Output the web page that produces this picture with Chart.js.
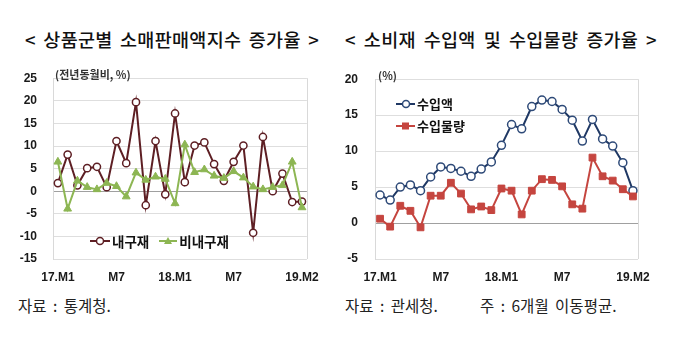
<!DOCTYPE html>
<html><head><meta charset="utf-8">
<script src="https://cdn.jsdelivr.net/npm/chart.js@4"></script>
<style>
html,body{margin:0;padding:0;background:#fff;}
body{width:680px;height:355px;position:relative;overflow:hidden;font-family:"Noto Sans CJK KR","Noto Sans",sans-serif;color:#111;}
.abs{position:absolute;white-space:nowrap;}
.title{font-size:18.5px;font-weight:500;line-height:20px;word-spacing:3px;letter-spacing:0.3px;}
.foot{font-size:15.5px;line-height:18px;color:#222;word-spacing:3px;}
.unit{font-size:11px;font-weight:700;color:#333;line-height:14px;}
.leg{display:flex;align-items:center;font-weight:700;}
.leg svg{display:block;}
canvas{position:absolute;}
</style></head><body>
<div class="abs title" style="left:25px;top:29px;">&lt; 상품군별 소매판매액지수 증가율 &gt;</div>
<div class="abs title" style="left:345px;top:29px;word-spacing:3.5px;">&lt; 소비재 수입액 및 수입물량 증가율 &gt;</div>

<div id="wl" class="abs" style="left:0;top:55px;width:330px;height:233px;"><canvas id="cl"></canvas></div>
<div id="wr" class="abs" style="left:340px;top:55px;width:330px;height:233px;"><canvas id="cr"></canvas></div>

<div class="abs unit" style="left:55px;top:67px;">(전년동월비, %)</div>
<div class="abs unit" style="left:378px;top:68px;">(%)</div>

<div class="abs leg" style="left:89px;top:231px;font-size:13.5px;">
 <svg width="22" height="10"><line x1="1" y1="5" x2="21" y2="5" stroke="#5E1F24" stroke-width="2"/><circle cx="11" cy="5" r="3.5" fill="#fff" stroke="#5E1F24" stroke-width="1.5"/></svg>
 <span style="margin-left:1px;">내구재</span>
 <svg width="20" height="10" style="margin-left:9px;"><line x1="1" y1="5" x2="19" y2="5" stroke="#8DB653" stroke-width="2"/><polygon points="10,1 14,8 6,8" fill="#8DB653"/></svg>
 <span style="margin-left:1px;">비내구재</span>
</div>
<div class="abs leg" style="left:395px;top:94px;font-size:13px;font-weight:600;">
 <svg width="21" height="10"><line x1="1" y1="5" x2="20" y2="5" stroke="#1F3864" stroke-width="2"/><circle cx="11" cy="5" r="3.5" fill="#fff" stroke="#2E4A78" stroke-width="1.5"/></svg>
 <span style="margin-left:1px;">수입액</span>
</div>
<div class="abs leg" style="left:395px;top:116px;font-size:13px;font-weight:600;">
 <svg width="21" height="10"><line x1="1" y1="5" x2="20" y2="5" stroke="#C5453F" stroke-width="2"/><rect x="7" y="1.5" width="7" height="7" fill="#C5453F"/></svg>
 <span style="margin-left:1px;">수입물량</span>
</div>

<div class="abs foot" style="left:18px;top:296px;">자료 : 통계청.</div>
<div class="abs foot" style="left:345px;top:296px;">자료 : 관세청.</div>
<div class="abs foot" style="left:480px;top:296px;">주 : 6개월 이동평균.</div>

<script>
// ---- data ----
const categories = ['17.M1','17.M2','17.M3','17.M4','17.M5','17.M6','17.M7','17.M8','17.M9','17.M10','17.M11','17.M12',
  '18.M1','18.M2','18.M3','18.M4','18.M5','18.M6','18.M7','18.M8','18.M9','18.M10','18.M11','18.M12','19.M1','19.M2'];
const tickLabels = ['17.M1','M7','18.M1','M7','19.M2'];
const tickIndex = [0, 6, 12, 18, 25];

const durable    = [1.8, 8.1, 1.3, 5.1, 5.4, 0.9, 11.1, 6.2, 19.7, -3.1, 11.1, -0.7, 17.2, 2.0, 10.1, 10.8, 6.0, 2.3, 6.5, 10.1, -9.2, 12.0, 0.0, 3.9, -2.4, -2.3];
const nondurable = [6.5, -3.9, 2.3, 0.9, 0.4, 1.8, 1.1, -1.2, 4.1, 2.5, 3.2, 2.7, -2.7, 10.3, 4.2, 4.8, 3.4, 2.9, 4.4, 3.0, 1.0, 0.4, 0.9, 1.3, 6.5, -3.6];

const importValue  = [3.9, 3.2, 5.0, 5.3, 4.5, 6.4, 7.8, 7.6, 7.2, 6.5, 7.5, 8.5, 10.8, 13.7, 13.1, 16.2, 17.1, 16.9, 15.8, 14.3, 11.4, 14.4, 11.7, 10.7, 8.4, 4.5];
const importVolume = [0.6, -0.5, 2.4, 1.7, -0.6, 3.8, 3.8, 5.6, 4.1, 1.9, 2.3, 1.8, 4.8, 4.5, 1.2, 4.5, 6.1, 6.0, 5.1, 2.6, 2.0, 9.1, 6.5, 5.9, 4.7, 3.7];

const leftRange  = {min: -15, max: 25, step: 5};
const rightRange = {min: -5,  max: 20, step: 5};

// ---- helpers ----
const boxPlugin = {
  id: 'box',
  beforeDatasetsDraw(chart) {
    const a = chart.chartArea, c = chart.ctx;
    c.save();
    c.strokeStyle = '#d9d9d9';
    c.lineWidth = 1;
    c.beginPath();
    c.moveTo(Math.round(a.right) + 0.5, a.top);
    c.lineTo(Math.round(a.right) + 0.5, a.bottom);
    c.stroke();
    c.restore();
  }
};

function makeOptions(range, yWidth, padTop, padRight, yPad) {
  return {
    responsive: true, maintainAspectRatio: false, animation: false,
    layout: {padding: {top: padTop, right: padRight, left: 0, bottom: 0}},
    plugins: {legend: {display: false}, tooltip: {enabled: false}},
    scales: {
      x: {
        offset: true,
        grid: {display: false, drawTicks: false},
        border: {display: false},
        ticks: {
          autoSkip: false, maxRotation: 0, padding: 11, color: '#1a1a1a',
          font: {family: 'Liberation Sans', size: 12, weight: 'bold'},
          callback: (v, i) => { const k = tickIndex.indexOf(i); return k >= 0 ? tickLabels[k] : ''; }
        },
        afterFit: s => { s.height = 29; }
      },
      y: {
        min: range.min, max: range.max,
        grid: {drawTicks: false, lineWidth: 1,
          color: ctx => ctx.tick && ctx.tick.value === 0 ? '#a0a0a0' : '#dedede'},
        border: {display: true, color: '#d9d9d9'},
        ticks: {stepSize: range.step, padding: yPad, color: '#1a1a1a',
          font: {family: 'Liberation Sans', size: 12, weight: 'bold'}},
        afterFit: s => { s.width = yWidth; }
      }
    }
  };
}

new Chart(document.getElementById('cl'), {
  type: 'line',
  data: {
    labels: categories,
    datasets: [
      {label: '비내구재', data: nondurable, borderColor: '#8DB653', backgroundColor: '#8DB653',
       borderWidth: 2, pointStyle: 'triangle', pointRadius: 4.5, pointBorderWidth: 1, tension: 0},
      {label: '내구재', data: durable, borderColor: '#5E1F24', backgroundColor: '#ffffff',
       borderWidth: 2, pointStyle: 'circle', pointRadius: 3.6, pointBorderWidth: 1.5, tension: 0}
    ]
  },
  options: makeOptions(leftRange, 53, 12, 18, 16),
  plugins: [boxPlugin]
});

new Chart(document.getElementById('cr'), {
  type: 'line',
  data: {
    labels: categories,
    datasets: [
      {label: '수입물량', data: importVolume, borderColor: '#C5453F', backgroundColor: '#C5453F',
       borderWidth: 2, pointStyle: 'rect', pointRadius: 4.8, pointBorderWidth: 1, tension: 0},
      {label: '수입액', data: importValue, borderColor: '#1F3864', backgroundColor: '#ffffff',
       pointBorderColor: '#2E4A78',
       borderWidth: 2, pointStyle: 'circle', pointRadius: 4, pointBorderWidth: 1.5, tension: 0}
    ]
  },
  options: makeOptions(rightRange, 35, 9, 32, 17),
  plugins: [boxPlugin]
});
</script>
</body></html>
